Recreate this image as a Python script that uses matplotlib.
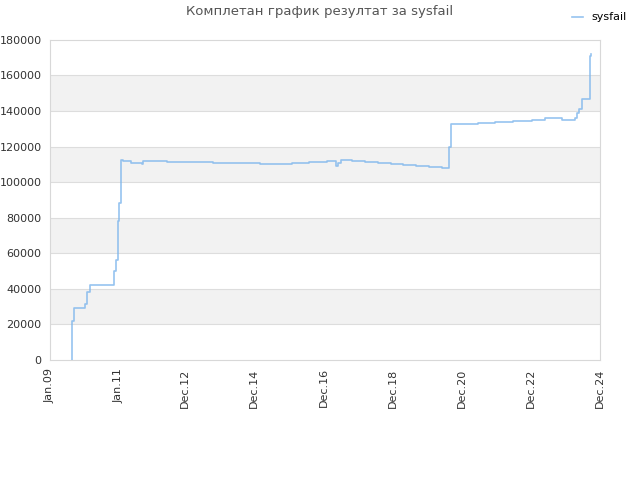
import matplotlib
matplotlib.use("Agg")
import matplotlib.pyplot as plt

# ---------------------------------------------------------------------------
# Data (decimal years, cumulative score)
# ---------------------------------------------------------------------------
years = [
    2009.64, 2009.65, 2009.69, 2010.01, 2010.07, 2010.16, 2010.82, 2010.85,
    2010.91, 2010.97, 2011.00, 2011.05, 2011.11, 2011.34, 2011.66, 2011.69,
    2012.39, 2013.72, 2015.08, 2016.00, 2016.50, 2017.02, 2017.28, 2017.34,
    2017.42, 2017.54, 2017.74, 2018.12, 2018.49, 2018.87, 2019.22, 2019.59,
    2019.97, 2020.35, 2020.52, 2020.55, 2020.61, 2021.39, 2021.88, 2022.40,
    2022.95, 2023.33, 2023.82, 2024.20, 2024.26, 2024.32, 2024.40, 2024.63,
    2024.66,
]
scores = [
    0, 22000, 29500, 31500, 38500, 42000, 42000, 50000,
    56000, 78000, 88000, 112300, 111800, 111000, 110400, 111700,
    111200, 110600, 110000, 110600, 111200, 111700, 108900, 111000,
    112300, 112300, 111700, 111200, 110600, 110000, 109500, 108900,
    108400, 107700, 107700, 120000, 132500, 133500, 134000, 134600,
    135200, 135800, 135200, 135800, 139000, 141000, 146500, 171000,
    172000,
]

tick_pos = [2009.0, 2011.0, 2012.92, 2014.92, 2016.92, 2018.92, 2020.92,
            2022.92, 2024.92]
tick_labels = ["Jan.09", "Jan.11", "Dec.12", "Dec.14", "Dec.16", "Dec.18",
               "Dec.20", "Dec.22", "Dec.24"]

fig = plt.figure(figsize=(6.4, 4.8), dpi=100)
ax = fig.add_axes([0.078, 0.25, 0.859, 0.667])

# alternating bands
for lo in range(20000, 180000, 40000):
    ax.axhspan(lo, lo + 20000, color="#f2f2f2", zorder=0, lw=0)
for y in range(20000, 180000, 20000):
    ax.axhline(y, color="#dddddd", lw=0.8, zorder=1)

ax.step(years, scores, where="post", color="#7cb5ec", lw=1.2, alpha=0.8,
        zorder=3, label="sysfail")

ax.set_xlim(2009.0, 2024.92)
ax.set_ylim(0, 180000)
ax.set_yticks(range(0, 180001, 20000))
ax.set_yticklabels([str(v) for v in range(0, 180001, 20000)])
ax.set_xticks(tick_pos)
ax.set_xticklabels(tick_labels, rotation=90)
ax.tick_params(colors="#333333", labelsize=8, length=0, pad=6)

for sp in ax.spines.values():
    sp.set_color("#d8d8d8")

fig.text(0.5, 0.975, "Комплетан график резултат за sysfail", ha="center",
         va="center", fontsize=9.5, color="#555555")
fig.legend(loc="upper right", bbox_to_anchor=(0.995, 0.995), frameon=False,
           fontsize=8, handlelength=1.0, handletextpad=0.8)

fig.savefig("out.png", dpi=100)
